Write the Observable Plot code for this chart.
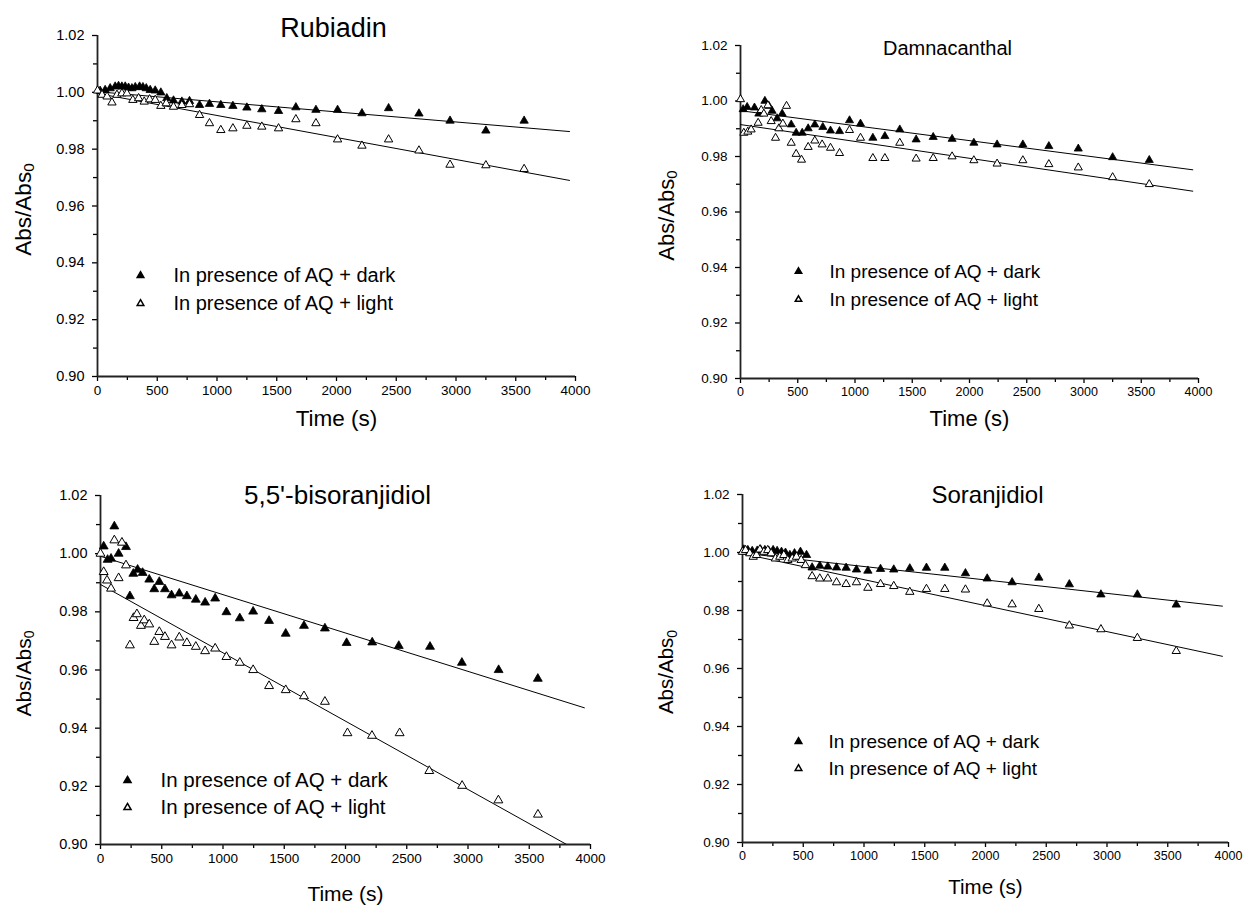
<!DOCTYPE html>
<html><head><meta charset="utf-8">
<script src="https://cdn.jsdelivr.net/npm/d3@7"></script>
<script src="https://cdn.jsdelivr.net/npm/@observablehq/plot@0.6"></script>
<style>
body{margin:0;background:#fff;}
#fig{position:relative;width:1246px;height:913px;background:#fff;}
#fig svg{position:absolute;overflow:visible;}
</style></head><body><div id="fig"></div>
<script>
// ---- shared labels / ticks ----
const panelTitles = ["Rubiadin", "Damnacanthal", "5,5'-bisoranjidiol", "Soranjidiol"];
const seriesLabels = ["In presence of AQ + dark", "In presence of AQ + light"];
const xLabel = "Time (s)";
const yLabelParts = ["Abs/Abs", "0"];
const xTicks = [0, 500, 1000, 1500, 2000, 2500, 3000, 3500, 4000];
const xMinorTicks = [250, 750, 1250, 1750, 2250, 2750, 3250, 3750];
const yTicks = [0.90, 0.92, 0.94, 0.96, 0.98, 1.00, 1.02];
const yMinorTicks = [0.91, 0.93, 0.95, 0.97, 0.99, 1.01];
const fitTime = [0, 3950];

// ---- Rubiadin ----
const rubiadinDarkTime = [22, 64, 106, 148, 176, 204, 232, 260, 288, 316, 352, 380, 408, 441, 483, 530, 580, 636, 706, 770, 854, 937, 1032, 1133, 1250, 1375, 1515, 1660, 1828, 2009, 2213, 2436, 2690, 2950, 3250, 3570];
const rubiadinDarkValue = [1.0005, 1.0008, 1.0014, 1.0020, 1.0022, 1.0020, 1.0020, 1.0016, 1.0014, 1.0018, 1.0020, 1.0018, 1.0014, 1.0008, 1.0006, 0.9999, 0.9979, 0.9971, 0.9967, 0.9969, 0.9955, 0.9959, 0.9955, 0.9952, 0.9946, 0.9940, 0.9934, 0.9947, 0.9938, 0.9938, 0.9926, 0.9944, 0.9925, 0.9900, 0.9865, 0.9900];
const rubiadinLightTime = [0, 38, 80, 121, 163, 204, 246, 296, 344, 391, 436, 483, 530, 575, 636, 706, 770, 854, 937, 1032, 1133, 1250, 1375, 1515, 1660, 1828, 2009, 2213, 2436, 2690, 2950, 3250, 3570];
const rubiadinLightValue = [1.0006, 0.9991, 0.9985, 0.9964, 0.9991, 0.9996, 0.9996, 0.9973, 0.9979, 0.9967, 0.9975, 0.9973, 0.9952, 0.9961, 0.9949, 0.9955, 0.9958, 0.9920, 0.9891, 0.9867, 0.9873, 0.9882, 0.9879, 0.9873, 0.9905, 0.9891, 0.9834, 0.9812, 0.9834, 0.9795, 0.9745, 0.9743, 0.9730];
const rubiadinFitDark = [1.0002, 0.9862];
const rubiadinFitLight = [0.9996, 0.9690];

// ---- Damnacanthal ----
const damnDarkTime = [23, 58, 122, 160, 213, 248, 276, 320, 364, 443, 486, 539, 591, 649, 719, 786, 865, 952, 1048, 1156, 1261, 1391, 1534, 1683, 1848, 2038, 2241, 2466, 2693, 2950, 3250, 3570];
const damnDarkValue = [0.9970, 0.9978, 0.9976, 0.9954, 1.0000, 0.9982, 0.9964, 0.9937, 0.9954, 0.9915, 0.9885, 0.9885, 0.9901, 0.9915, 0.9906, 0.9893, 0.9891, 0.9930, 0.9918, 0.9867, 0.9873, 0.9897, 0.9861, 0.9870, 0.9863, 0.9849, 0.9843, 0.9843, 0.9837, 0.9828, 0.9797, 0.9787];
const damnLightTime = [0, 29, 64, 93, 154, 181, 204, 239, 268, 306, 335, 370, 402, 443, 486, 533, 591, 649, 713, 786, 865, 952, 1048, 1156, 1261, 1391, 1534, 1683, 1848, 2038, 2241, 2466, 2693, 2950, 3250, 3570];
const damnLightValue = [1.0006, 0.9885, 0.9889, 0.9897, 0.9921, 0.9967, 0.9954, 0.9984, 0.9927, 0.9867, 0.9901, 0.9918, 0.9982, 0.9849, 0.9809, 0.9788, 0.9834, 0.9857, 0.9843, 0.9831, 0.9812, 0.9895, 0.9867, 0.9794, 0.9794, 0.9849, 0.9792, 0.9794, 0.9800, 0.9786, 0.9774, 0.9786, 0.9772, 0.9760, 0.9725, 0.9700];
const damnFitDark = [0.9965, 0.9752];
const damnFitLight = [0.9915, 0.9675];

// ---- 5,5'-bisoranjidiol ----
const bisDarkTime = [26, 58, 86, 113, 148, 208, 240, 268, 303, 344, 398, 439, 480, 526, 580, 643, 705, 778, 854, 936, 1028, 1137, 1246, 1376, 1512, 1661, 1832, 2009, 2218, 2435, 2690, 2950, 3250, 3570];
const bisDarkValue = [1.0025, 0.9979, 0.9983, 1.0094, 1.0000, 1.0023, 0.9854, 0.9931, 0.9945, 0.9934, 0.9911, 0.9878, 0.9903, 0.9878, 0.9857, 0.9863, 0.9854, 0.9842, 0.9832, 0.9846, 0.9799, 0.9778, 0.9801, 0.9769, 0.9725, 0.9752, 0.9743, 0.9693, 0.9695, 0.9683, 0.9680, 0.9625, 0.9600, 0.9570];
const bisLightTime = [0, 26, 53, 86, 113, 148, 175, 208, 240, 270, 297, 330, 357, 398, 439, 480, 526, 580, 643, 705, 778, 854, 936, 1028, 1137, 1246, 1376, 1512, 1661, 1832, 2016, 2216, 2442, 2684, 2952, 3248, 3571];
const bisLightValue = [1.0000, 0.9937, 0.9908, 0.9880, 1.0046, 0.9916, 1.0038, 0.9960, 0.9685, 0.9779, 0.9792, 0.9752, 0.9771, 0.9757, 0.9697, 0.9731, 0.9714, 0.9685, 0.9712, 0.9693, 0.9680, 0.9665, 0.9674, 0.9645, 0.9625, 0.9600, 0.9545, 0.9531, 0.9510, 0.9491, 0.9383, 0.9374, 0.9383, 0.9253, 0.9202, 0.9152, 0.9103];
const bisFitDark = [0.9991, 0.9470];
const bisFitLight = [0.9894, 0.8966];

// ---- Soranjidiol ----
const soranDarkTime = [11, 44, 80, 121, 148, 184, 217, 252, 285, 321, 354, 390, 428, 477, 527, 573, 636, 702, 774, 853, 938, 1032, 1136, 1245, 1377, 1514, 1665, 1835, 2014, 2219, 2439, 2690, 2950, 3250, 3570];
const soranDarkValue = [1.0010, 1.0008, 1.0005, 1.0006, 1.0010, 1.0008, 1.0005, 1.0008, 1.0005, 1.0002, 0.9999, 0.9991, 0.9997, 1.0002, 0.9991, 0.9948, 0.9954, 0.9951, 0.9948, 0.9947, 0.9941, 0.9937, 0.9943, 0.9941, 0.9945, 0.9947, 0.9947, 0.9928, 0.9910, 0.9897, 0.9913, 0.9890, 0.9855, 0.9855, 0.9820];
const soranLightTime = [0, 25, 60, 88, 115, 143, 176, 208, 236, 271, 307, 340, 373, 409, 444, 483, 518, 573, 636, 702, 774, 853, 938, 1032, 1136, 1245, 1377, 1514, 1665, 1835, 2014, 2219, 2439, 2690, 2950, 3250, 3570];
const soranLightValue = [1.0002, 1.0008, 0.9997, 0.9985, 0.9991, 1.0010, 1.0002, 1.0008, 0.9997, 0.9979, 0.9985, 0.9991, 0.9974, 0.9979, 0.9985, 0.9974, 0.9956, 0.9918, 0.9910, 0.9910, 0.9897, 0.9891, 0.9897, 0.9878, 0.9891, 0.9884, 0.9864, 0.9874, 0.9874, 0.9872, 0.9824, 0.9821, 0.9805, 0.9748, 0.9735, 0.9705, 0.9660];
const soranFitDark = [0.9998, 0.9815];
const soranFitLight = [0.9996, 0.9642];

const zip = (t, v) => t.map((d, i) => ({t: d, v: v[i]}));
const FONT = "Liberation Sans, Arial, Helvetica, sans-serif";

// layout (page pixels)
const panels = [
  {title: panelTitles[0], left: 0, top: 0, width: 623, height: 456, fx0: 97, fx1: 575, fy0: 35, fy1: 376,
   dark: zip(rubiadinDarkTime, rubiadinDarkValue), light: zip(rubiadinLightTime, rubiadinLightValue),
   fitD: rubiadinFitDark, fitL: rubiadinFitLight,
   titleX: 333, titleY: 28, titleSize: 27, yTickFont: 14.5, xTickFont: 13.5, legFont: 20, legMX: 140, legTX: 173, legY1: 275, legY2: 303,
   yLabX: 25, xLabY: 418, labFont: 22.5, r: 3.1},
  {title: panelTitles[1], left: 623, top: 0, width: 623, height: 456, fx0: 740, fx1: 1198, fy0: 45, fy1: 378,
   dark: zip(damnDarkTime, damnDarkValue), light: zip(damnLightTime, damnLightValue),
   fitD: damnFitDark, fitL: damnFitLight,
   titleX: 947, titleY: 48, titleSize: 20, yTickFont: 13.5, xTickFont: 12.5, legFont: 19, legMX: 798, legTX: 829, legY1: 271, legY2: 299,
   yLabX: 668, xLabY: 418, labFont: 22, r: 3.0},
  {title: panelTitles[2], left: 0, top: 456, width: 623, height: 457, fx0: 100, fx1: 590, fy0: 495, fy1: 844,
   dark: zip(bisDarkTime, bisDarkValue), light: zip(bisLightTime, bisLightValue),
   fitD: bisFitDark, fitL: bisFitLight,
   titleX: 337, titleY: 495, titleSize: 26, yTickFont: 14.5, xTickFont: 13.5, legFont: 20.5, legMX: 127, legTX: 160, legY1: 780, legY2: 807,
   yLabX: 25, xLabY: 894, labFont: 21, r: 3.3},
  {title: panelTitles[3], left: 623, top: 456, width: 623, height: 457, fx0: 742, fx1: 1228, fy0: 494, fy1: 842,
   dark: zip(soranDarkTime, soranDarkValue), light: zip(soranLightTime, soranLightValue),
   fitD: soranFitDark, fitL: soranFitLight,
   titleX: 987, titleY: 495, titleSize: 24, yTickFont: 13.5, xTickFont: 12.5, legFont: 19, legMX: 798, legTX: 828, legY1: 741, legY2: 768,
   yLabX: 668, xLabY: 887, labFont: 20.5, r: 3.1}
];

const fig = document.getElementById("fig");
for (const p of panels) {
  const mL = p.fx0 - p.left, mR = p.left + p.width - p.fx1;
  const mT = p.fy0 - p.top, mB = p.top + p.height - p.fy1;
  const rel = (X, Y) => ({dx: X - p.fx0, dy: Y - p.fy0});
  const fitD = fitTime.map((t, i) => ({t, v: p.fitD[i]}));
  const fitL = fitTime.map((t, i) => ({t, v: p.fitL[i]}));
  const svg = Plot.plot({
    width: p.width, height: p.height,
    marginLeft: mL, marginRight: mR, marginTop: mT, marginBottom: mB,
    x: {domain: [0, 4000]},
    y: {domain: [0.90, 1.02]},
    style: {fontFamily: FONT, color: "black", background: "transparent", overflow: "visible"},
    marks: [
      Plot.axisY(yTicks, {tickSize: 5, tickPadding: 8, tickFormat: d3.format(".2f"), fontSize: p.yTickFont, label: null, strokeWidth: 1.3}),
      Plot.axisY(yMinorTicks, {tickSize: 4, tickFormat: () => "", label: null, strokeWidth: 1.3}),
      Plot.axisX(xTicks, {tickSize: 5, tickPadding: 4, tickFormat: d => String(d), fontSize: p.xTickFont, label: null, strokeWidth: 1.3}),
      Plot.axisX(xMinorTicks, {tickSize: 4, tickFormat: () => "", label: null, strokeWidth: 1.3}),
      Plot.ruleX([0], {y1: 0.90, y2: 1.02, stroke: "#222", strokeWidth: 1.8}),
      Plot.ruleY([0.90], {x1: 0, x2: 4000, stroke: "#222", strokeWidth: 1.8}),
      Plot.line(fitD, {x: "t", y: "v", stroke: "black", strokeWidth: 1}),
      Plot.line(fitL, {x: "t", y: "v", stroke: "black", strokeWidth: 1, clip: true}),
      Plot.dot(p.dark, {x: "t", y: "v", symbol: "triangle", r: p.r, fill: "black", stroke: "black", strokeWidth: 0.8}),
      Plot.dot(p.light, {x: "t", y: "v", symbol: "triangle", r: p.r, fill: "white", stroke: "black", strokeWidth: 1}),
      Plot.text([p.title], {text: d => d, frameAnchor: "top-left", ...rel(p.titleX, p.titleY), textAnchor: "middle", lineAnchor: "middle", fontSize: p.titleSize, fill: "black"}),
      Plot.text([xLabel], {text: d => d, frameAnchor: "top-left", ...rel((p.fx0 + p.fx1) / 2, p.xLabY), textAnchor: "middle", lineAnchor: "middle", fontSize: p.labFont, fill: "black"}),
      Plot.dot([seriesLabels[0]], {frameAnchor: "top-left", ...rel(p.legMX, p.legY1), symbol: "triangle", r: p.r * 0.8, fill: "black", stroke: "black"}),
      Plot.dot([seriesLabels[1]], {frameAnchor: "top-left", ...rel(p.legMX, p.legY2), symbol: "triangle", r: p.r * 0.8, fill: "white", stroke: "black"}),
      Plot.text([seriesLabels[0]], {text: d => d, frameAnchor: "top-left", ...rel(p.legTX, p.legY1), textAnchor: "start", lineAnchor: "middle", fontSize: p.legFont, fill: "black"}),
      Plot.text([seriesLabels[1]], {text: d => d, frameAnchor: "top-left", ...rel(p.legTX, p.legY2), textAnchor: "start", lineAnchor: "middle", fontSize: p.legFont, fill: "black"})
    ]
  });
  svg.style.left = p.left + "px";
  svg.style.top = p.top + "px";
  const yc = (p.fy0 + p.fy1) / 2 - p.top + 4;
  const t = d3.select(svg).append("text")
    .attr("transform", `translate(${p.yLabX - p.left},${yc}) rotate(-90)`)
    .attr("text-anchor", "middle").attr("dominant-baseline", "middle")
    .attr("font-family", FONT).attr("font-size", p.labFont).attr("fill", "black");
  t.append("tspan").text(yLabelParts[0]);
  t.append("tspan").attr("dy", "0.35em").attr("font-size", p.labFont * 0.68).text(yLabelParts[1]);
  fig.appendChild(svg);
}
</script>
</body></html>
